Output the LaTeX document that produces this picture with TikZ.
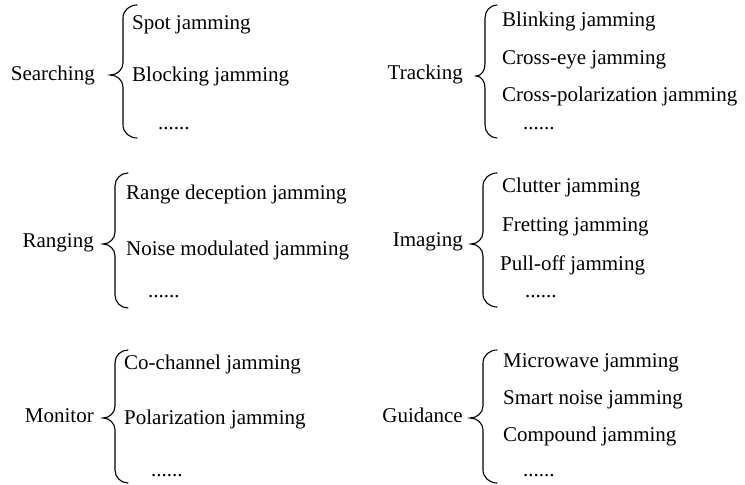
\documentclass[tikz,border=0pt]{standalone}
\usepackage{fontspec}
\setmainfont{Liberation Serif}
\newcommand\LBrace[6]{% tip x, spine x, point x, top y, mid y, bottom y
  \draw[bracestyle] (#1,#4) to[out=180,in=90] (#2,#4-13) -- (#2,#5+12)
    to[out=-90,in=0] (#3,#5) to[out=0,in=90] (#2,#5-12) -- (#2,#6+13)
    to[out=-90,in=180] (#1,#6);}
\begin{document}
\begin{tikzpicture}[x=1pt,y=1pt,
  txt/.style={inner sep=0pt,font=\fontsize{21}{25}\selectfont},
  item/.style={txt,anchor=base west},
  head/.style={txt,anchor=base east},
  bracestyle/.style={line width=1.1pt,line cap=round}]
\useasboundingbox (0,0) rectangle (745,485);
% Searching
\node[head] (s0) at (95,404) {Searching};
\LBrace{137}{123}{110}{480}{410}{347}
\node[item] (s1) at (132,455) {Spot jamming};
\node[item] (s2) at (132,403) {Blocking jamming};
\node[item] (s3) at (158,355) {......};
% Tracking
\node[head] (t0) at (463,405) {Tracking};
\LBrace{497}{485}{476}{480}{409}{347}
\node[item] (t1) at (502,458) {Blinking jamming};
\node[item] (t2) at (502,420) {Cross-eye jamming};
\node[item] (t3) at (502,383) {Cross-polarization jamming};
\node[item] (t4) at (523,355) {......};
% Ranging
\node[head] (r0) at (94,237) {Ranging};
\LBrace{128}{115}{103}{312}{241}{177}
\node[item] (r1) at (126,285) {Range deception jamming};
\node[item] (r2) at (126,229) {Noise modulated jamming};
\node[item] (r3) at (148,187) {......};
% Imaging
\node[head] (i0) at (463,238) {Imaging};
\LBrace{497}{483}{471}{312}{241}{178}
\node[item] (i1) at (502,292) {Clutter jamming};
\node[item] (i2) at (502,253) {Fretting jamming};
\node[item] (i3) at (500,214) {Pull-off jamming};
\node[item] (i4) at (525,187) {......};
% Monitor
\node[head] (m0) at (94,62) {Monitor};
\LBrace{128}{115}{103}{135}{67}{2}
\node[item] (m1) at (124,115) {Co-channel jamming};
\node[item] (m2) at (124,60) {Polarization jamming};
\node[item] (m3) at (151,8) {......};
% Guidance
\node[head] (g0) at (463,62) {Guidance};
\LBrace{497}{483}{470}{135}{67}{2}
\node[item] (g1) at (503,117) {Microwave jamming};
\node[item] (g2) at (503,80) {Smart noise jamming};
\node[item] (g3) at (503,43) {Compound jamming};
\node[item] (g4) at (523,8) {......};
\end{tikzpicture}
\end{document}
